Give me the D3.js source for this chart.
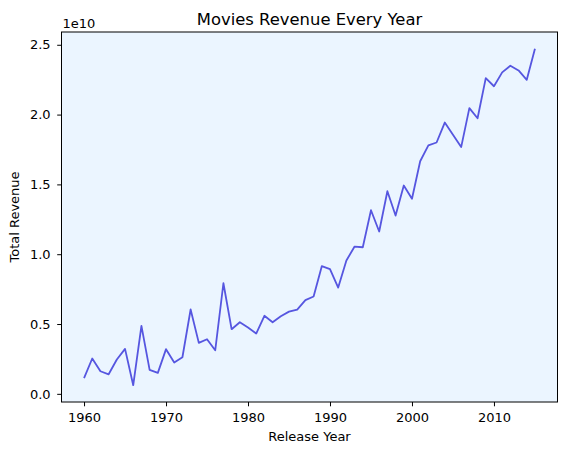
<!DOCTYPE html>
<html>
<head>
<meta charset="utf-8">
<script src="https://cdn.jsdelivr.net/npm/d3@7"></script>
<style>
  body { margin: 0; background: #ffffff; }
  text { font-family: "DejaVu Sans", sans-serif; fill: #000; }
</style>
</head>
<body>
<div id="chart"></div>
<script>
// years on the x axis
var years = [1960, 1961, 1962, 1963, 1964, 1965, 1966, 1967, 1968, 1969,
             1970, 1971, 1972, 1973, 1974, 1975, 1976, 1977, 1978, 1979,
             1980, 1981, 1982, 1983, 1984, 1985, 1986, 1987, 1988, 1989,
             1990, 1991, 1992, 1993, 1994, 1995, 1996, 1997, 1998, 1999,
             2000, 2001, 2002, 2003, 2004, 2005, 2006, 2007, 2008, 2009,
             2010, 2011, 2012, 2013, 2014, 2015];

// total revenue per year
var revenue = [1.12e9, 2.53e9, 1.62e9, 1.40e9, 2.46e9, 3.22e9, 0.62e9, 4.87e9, 1.72e9, 1.50e9,
               3.20e9, 2.24e9, 2.62e9, 6.04e9, 3.65e9, 3.91e9, 3.12e9, 7.92e9, 4.63e9, 5.13e9,
               4.75e9, 4.32e9, 5.59e9, 5.13e9, 5.56e9, 5.89e9, 6.03e9, 6.71e9, 6.97e9, 9.14e9,
               8.93e9, 7.61e9, 9.55e9, 10.55e9, 10.50e9, 13.15e9, 11.63e9, 14.51e9, 12.77e9, 14.92e9,
               13.97e9, 16.66e9, 17.79e9, 18.00e9, 19.43e9, 18.55e9, 17.67e9, 20.46e9, 19.74e9, 22.61e9,
               22.03e9, 23.02e9, 23.50e9, 23.16e9, 22.49e9, 24.71e9];

var xTicks = [1960, 1970, 1980, 1990, 2000, 2010];
var yTicks = [0, 0.5e10, 1.0e10, 1.5e10, 2.0e10, 2.5e10];

//Define SVG area dimensions
var svgWidth = 567;
var svgHeight = 455;

//plot box edges, like matplotlib's default subplot
var margin = {
    top: 32,
    right: 9.5,
    bottom: 53,
    left: 61.5
};

var chartWidth = svgWidth - margin.left - margin.right;
var chartHeight = svgHeight - margin.top - margin.bottom;

var svg = d3.select("#chart").append("svg")
            .attr("width", svgWidth)
            .attr("height", svgHeight);

var chartGroup = svg.append("g")
        .attr("transform", `translate(${margin.left}, ${margin.top})`);

// 5% padding on both scales
function padded(values) {
    var lo = d3.min(values), hi = d3.max(values);
    var pad = (hi - lo) * 0.05;
    return [lo - pad, hi + pad];
}

var xScale = d3.scaleLinear()
    .domain(padded(years))
    .range([0, chartWidth]);

var yScale = d3.scaleLinear()
    .domain(padded(revenue))
    .range([chartHeight, 0]);

//background of the plot area
chartGroup.append("rect")
    .attr("width", chartWidth)
    .attr("height", chartHeight)
    .attr("fill", "#ebf5ff");

//the line
var line = d3.line()
    .x((d, i) => xScale(years[i]))
    .y(d => yScale(d));

chartGroup.append("path")
    .datum(revenue)
    .attr("d", line)
    .attr("fill", "none")
    .attr("stroke", "#5656e0")
    .attr("stroke-width", 1.8)
    .attr("stroke-linejoin", "round");

//axes
var bottomAxis = d3.axisBottom(xScale)
    .tickValues(xTicks)
    .tickFormat(d3.format("d"))
    .tickSize(4.3)
    .tickPadding(6.9);

var leftAxis = d3.axisLeft(yScale)
    .tickValues(yTicks)
    .tickFormat(d => (d / 1e10).toFixed(1))
    .tickSize(4.3)
    .tickPadding(6.6);

var xAxis = chartGroup.append("g")
    .attr("transform", `translate(0, ${chartHeight})`)
    .call(bottomAxis);

var yAxis = chartGroup.append("g")
    .call(leftAxis);

[xAxis, yAxis].forEach(function(ax) {
    ax.selectAll(".domain").remove();
    ax.selectAll("line").attr("stroke", "#000").attr("stroke-width", 1);
    ax.selectAll("text")
        .style("font-size", "13px")
        .style("font-family", "DejaVu Sans, sans-serif")
        .attr("fill", "#000");
});

//frame
chartGroup.append("rect")
    .attr("width", chartWidth)
    .attr("height", chartHeight)
    .attr("fill", "none")
    .attr("stroke", "#000")
    .attr("stroke-width", 1);

//offset text
chartGroup.append("text")
    .attr("x", 1)
    .attr("y", -4.5)
    .style("font-size", "13px")
    .text("1e10");

//title
chartGroup.append("text")
    .attr("x", chartWidth / 2)
    .attr("y", -7)
    .attr("text-anchor", "middle")
    .style("font-size", "16.4px")
    .text("Movies Revenue Every Year");

//x label
chartGroup.append("text")
    .attr("x", chartWidth / 2)
    .attr("y", chartHeight + 38.7)
    .attr("text-anchor", "middle")
    .style("font-size", "13px")
    .text("Release Year");

//y label
chartGroup.append("text")
    .attr("transform", "rotate(-90)")
    .attr("x", 0 - chartHeight / 2)
    .attr("y", 19 - margin.left)
    .attr("text-anchor", "middle")
    .style("font-size", "13px")
    .text("Total Revenue");
</script>
</body>
</html>
